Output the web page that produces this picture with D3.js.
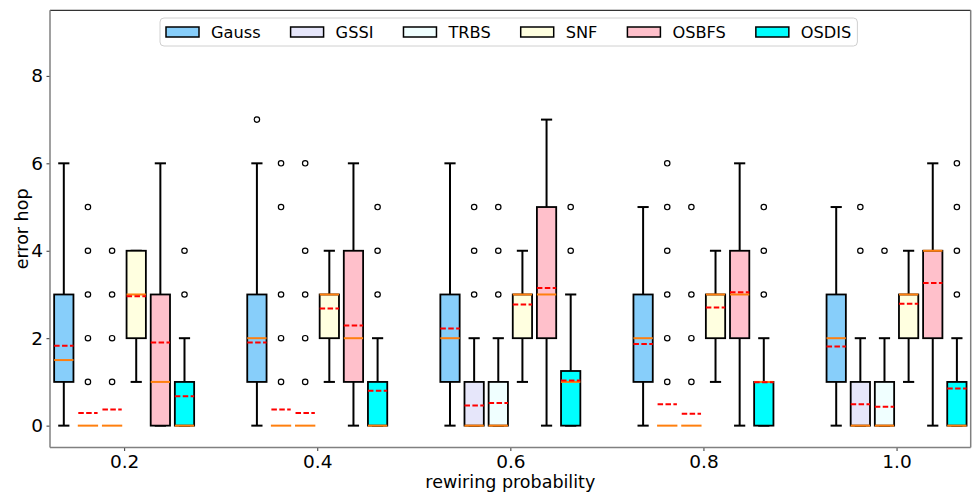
<!DOCTYPE html>
<html>
<head>
<meta charset="utf-8">
<script src="https://cdn.jsdelivr.net/npm/d3@7"></script>
<style>
  html, body { margin: 0; padding: 0; background: #fff; }
  svg { display: block; font-family: "DejaVu Sans", sans-serif; }
</style>
</head>
<body>
<svg id="chart" width="975" height="494"></svg>
<script>
// Rewiring probabilities (x groups) and methods (one box per method per group)
const groups = ["0.2", "0.4", "0.6", "0.8", "1.0"];
const methods = ["Gauss", "GSSI", "TRBS", "SNF", "OSBFS", "OSDIS"];
const yTicks = [0, 2, 4, 6, 8];

// Box statistics, rows = methods, columns = groups
const whiskerLow = [
  [0, 0, 0, 0, 0],
  [0, 0, 0, 0, 0],
  [0, 0, 0, 0, 0],
  [1, 1, 1, 1, 1],
  [0, 0, 0, 0, 0],
  [0, 0, 0, 0, 0]
];
const q1 = [
  [1, 1, 1, 1, 1],
  [0, 0, 0, 0, 0],
  [0, 0, 0, 0, 0],
  [2, 2, 2, 2, 2],
  [0, 1, 2, 2, 2],
  [0, 0, 0, 0, 0]
];
const median = [
  [1.5, 2, 2, 2, 2],
  [0, 0, 0, 0, 0],
  [0, 0, 0, 0, 0],
  [3, 3, 3, 3, 3],
  [1, 2, 3, 3, 4],
  [0, 0, 1, 1, 0]
];
const q3 = [
  [3, 3, 3, 3, 3],
  [0, 0, 1, 0, 1],
  [0, 0, 1, 0, 1],
  [4, 3, 3, 3, 3],
  [3, 4, 5, 4, 4],
  [1, 1, 1.25, 1, 1]
];
const whiskerHigh = [
  [6, 6, 6, 5, 5],
  [0, 0, 2, 0, 2],
  [0, 0, 2, 0, 2],
  [4, 4, 4, 4, 4],
  [6, 6, 7, 6, 6],
  [2, 2, 3, 2, 2]
];
const means = [
  [1.83, 1.90, 2.22, 1.87, 1.81],
  [0.29, 0.37, 0.46, 0.49, 0.49],
  [0.37, 0.29, 0.52, 0.27, 0.43],
  [2.96, 2.68, 2.77, 2.70, 2.79],
  [1.90, 2.29, 3.15, 3.05, 3.26],
  [0.67, 0.80, 1.03, 0.99, 0.85]
];
const outliers = [
  [[], [7], [], [], []],
  [[1, 2, 3, 4, 5], [1, 2, 3, 5, 6], [3, 4, 5], [1, 2, 3, 4, 5, 6], [4, 5]],
  [[1, 2, 3, 4], [1, 2, 3, 4, 6], [3, 4, 5], [1, 2, 3, 5], [4]],
  [[], [], [], [], []],
  [[], [], [], [], []],
  [[3, 4], [3, 4, 5], [4, 5], [3, 4, 5], [3, 4, 5, 6]]
];

const fills = ["#87cefa", "#e6e6fa", "#f0ffff", "#ffffe0", "#ffc0cb", "#00ffff"];

const svg = d3.select("#chart");
const plot = { left: 50, right: 970.7, top: 10.3, bottom: 447.5 };

const x = d3.scaleLinear().domain([0.616, 5.384]).range([plot.left, plot.right]);
const y = d3.scaleLinear().domain([-0.5, 9.5]).range([plot.bottom, plot.top]);

const step = 0.125, boxW = 0.1;
const halfPx = (x(boxW) - x(0)) / 2;
const capHalf = halfPx * 0.58;

const g = svg.append("g");

methods.forEach((m, i) => {
  groups.forEach((grp, j) => {
    const cx = x(j + 1 + (i - 2.5) * step);
    const b = g.append("g");
    const flat = q1[i][j] === q3[i][j];
    // whiskers
    b.append("line").attr("x1", cx).attr("x2", cx)
      .attr("y1", y(q1[i][j])).attr("y2", y(whiskerLow[i][j]))
      .attr("stroke", "#000").attr("stroke-width", 2);
    b.append("line").attr("x1", cx).attr("x2", cx)
      .attr("y1", y(q3[i][j])).attr("y2", y(whiskerHigh[i][j]))
      .attr("stroke", "#000").attr("stroke-width", 2);
    // caps
    if (!flat) {
      [whiskerLow[i][j], whiskerHigh[i][j]].forEach(v => {
        b.append("line").attr("x1", cx - capHalf).attr("x2", cx + capHalf)
          .attr("y1", y(v)).attr("y2", y(v))
          .attr("stroke", "#000").attr("stroke-width", 2);
      });
      // box
      b.append("rect")
        .attr("x", cx - halfPx).attr("width", halfPx * 2)
        .attr("y", y(q3[i][j])).attr("height", y(q1[i][j]) - y(q3[i][j]))
        .attr("fill", fills[i]).attr("stroke", "#000").attr("stroke-width", 1.8);
    }
    // median
    b.append("line").attr("x1", cx - halfPx - (flat ? 0.5 : 0)).attr("x2", cx + halfPx + (flat ? 0.5 : 0))
      .attr("y1", y(median[i][j])).attr("y2", y(median[i][j]))
      .attr("stroke", "#ff7f0e").attr("stroke-width", 2);
    // fliers
    outliers[i][j].forEach(v => {
      b.append("circle").attr("cx", cx).attr("cy", y(v)).attr("r", 2.7)
        .attr("fill", "none").attr("stroke", "#000").attr("stroke-width", 1.2);
    });
    // mean (dashed)
    b.append("line").attr("x1", cx - halfPx).attr("x2", cx + halfPx)
      .attr("y1", y(means[i][j])).attr("y2", y(means[i][j]))
      .attr("stroke", "#ff0000").attr("stroke-width", 2)
      .attr("stroke-dasharray", "5.5,2.4");
  });
});

// axes
const yAxis = d3.axisLeft(y).tickValues(yTicks).tickFormat(d3.format("d"))
  .tickSize(3.5).tickPadding(3.5);
const xAxis = d3.axisBottom(x).tickValues(groups.map((d, i) => i + 1))
  .tickFormat((d, i) => groups[i]).tickSize(3.5).tickPadding(4);

const ya = svg.append("g").attr("transform", `translate(${plot.left},0)`).call(yAxis);
const xa = svg.append("g").attr("transform", `translate(0,${plot.bottom})`).call(xAxis);
[ya, xa].forEach(a => {
  a.select(".domain").remove();
  a.selectAll(".tick line").attr("stroke", "#333").attr("stroke-width", 1);
  a.selectAll(".tick text").attr("fill", "#000")
    .style("font-size", "18.5px").style("font-family", "DejaVu Sans");
});

// spines
svg.append("line").attr("x1", plot.left).attr("x2", plot.right)
  .attr("y1", plot.top).attr("y2", plot.top).attr("stroke", "#333").attr("stroke-width", 1.2);
svg.append("line").attr("x1", plot.left).attr("x2", plot.left)
  .attr("y1", plot.top).attr("y2", plot.bottom).attr("stroke", "#808080").attr("stroke-width", 1.5);
svg.append("line").attr("x1", plot.right).attr("x2", plot.right)
  .attr("y1", plot.top).attr("y2", plot.bottom).attr("stroke", "#808080").attr("stroke-width", 1.5);
svg.append("line").attr("x1", plot.left).attr("x2", plot.right)
  .attr("y1", plot.bottom).attr("y2", plot.bottom).attr("stroke", "#808080").attr("stroke-width", 1.5);

// axis labels
svg.append("text").text("rewiring probability")
  .attr("x", (plot.left + plot.right) / 2).attr("y", 488)
  .attr("text-anchor", "middle").style("font-size", "17.5px");
svg.append("text").text("error hop")
  .attr("transform", `translate(28,${(plot.top + plot.bottom) / 2}) rotate(-90)`)
  .attr("text-anchor", "middle").style("font-size", "17.5px");

// legend
const leg = svg.append("g");
const legBg = leg.append("rect").attr("x", 160).attr("y", 18).attr("height", 28)
  .attr("rx", 4).attr("fill", "#fff").attr("fill-opacity", 0.8)
  .attr("stroke", "#d0d0d0").attr("stroke-width", 1);
let lx = 166;
methods.forEach((m, i) => {
  leg.append("rect").attr("x", lx).attr("y", 27).attr("width", 33).attr("height", 10)
    .attr("fill", fills[i]).attr("stroke", "#000").attr("stroke-width", 1.5);
  const t = leg.append("text").text(m).attr("x", lx + 45).attr("y", 38)
    .style("font-size", "16.2px");
  const w = t.node().getComputedTextLength();
  lx = lx + 45 + w + (i < methods.length - 1 ? 30 : 0);
});
legBg.attr("width", lx + 6 - 160);
</script>
</body>
</html>
